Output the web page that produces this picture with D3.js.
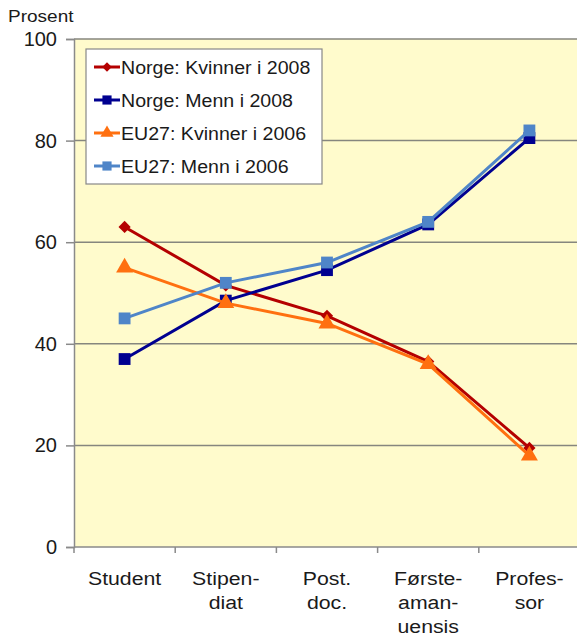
<!DOCTYPE html>
<html>
<head>
<meta charset="utf-8">
<script src="https://cdn.jsdelivr.net/npm/d3@7"></script>
<style>
  body { margin: 0; background: #fff; }
  text { font-family: "Liberation Sans", Arial, sans-serif; fill: #1a1a1a; }
</style>
</head>
<body>
<div id="chart"></div>
<script>
// data
const categories = ['Student', 'Stipendiat', 'Post.doc', 'Førsteamanuensis', 'Professor'];
const categoryLabels = [['Student'], ['Stipen-', 'diat'], ['Post.', 'doc.'], ['Første-', 'aman-', 'uensis'], ['Profes-', 'sor']];
const norgeKvinner = [63, 51.5, 45.5, 36.5, 19.5];
const norgeMenn = [37, 48.5, 54.5, 63.5, 80.5];
const euKvinner = [55, 48, 44, 36, 18];
const euMenn = [45, 52, 56, 64, 82];
const yTicks = [0, 20, 40, 60, 80, 100];

const series = [
  { name: 'Norge: Kvinner i 2008', values: norgeKvinner, color: '#b40000', symbol: d3.symbolDiamond2, size: 95 },
  { name: 'Norge: Menn i 2008', values: norgeMenn, color: '#000090', symbol: d3.symbolSquare, size: 140 },
  { name: 'EU27: Kvinner i 2006', values: euKvinner, color: '#ff7010', symbol: d3.symbolTriangle, size: 125 },
  { name: 'EU27: Menn i 2006', values: euMenn, color: '#4f85c8', symbol: d3.symbolSquare, size: 140 }
];

const width = 577, height = 637;
const margin = { top: 39, right: -3, bottom: 90, left: 74 };
const innerW = width - margin.left - margin.right;
const innerH = height - margin.top - margin.bottom;
const stretch = 1.12; // the source text is a little wider than Arial

const svg = d3.select('#chart').append('svg')
  .attr('width', width)
  .attr('height', height);

const g = svg.append('g')
  .attr('transform', `translate(${margin.left},${margin.top})`);

const x = d3.scaleBand().domain(categories).range([0, innerW]);
const y = d3.scaleLinear().domain([0, 100]).range([innerH, 0]);

// plot background
g.append('rect')
  .attr('width', innerW)
  .attr('height', innerH)
  .attr('fill', '#fffbcc');

// gridlines
g.selectAll('.grid')
  .data(yTicks.filter(d => d > 0))
  .enter().append('line')
  .attr('x1', 0).attr('x2', innerW)
  .attr('y1', d => y(d)).attr('y2', d => y(d))
  .attr('stroke', '#86867e')
  .attr('stroke-width', 1.5);

// y axis
const yAxis = g.append('g')
  .call(d3.axisLeft(y).tickValues(yTicks).tickSize(8).tickPadding(9));
yAxis.select('.domain').attr('stroke', '#8a8a8a').attr('stroke-width', 1.5);
yAxis.selectAll('.tick line').attr('stroke', '#8a8a8a').attr('stroke-width', 1.5);
yAxis.selectAll('.tick text').style('font-size', '20px').attr('fill', '#1a1a1a');

// x axis
g.append('line')
  .attr('x1', 0).attr('x2', innerW)
  .attr('y1', innerH).attr('y2', innerH)
  .attr('stroke', '#8a8a8a').attr('stroke-width', 1.5);
g.selectAll('.xtick')
  .data(categories)
  .enter().append('line')
  .attr('x1', d => x(d)).attr('x2', d => x(d))
  .attr('y1', innerH).attr('y2', innerH + 6)
  .attr('stroke', '#8a8a8a').attr('stroke-width', 1.5);

const xl = g.selectAll('.xlabel')
  .data(categories)
  .enter().append('text')
  .attr('text-anchor', 'middle')
  .attr('transform', d => `translate(${x(d) + x.bandwidth() / 2},${innerH + 38}) scale(${stretch},1)`)
  .style('font-size', '19px');
xl.selectAll('tspan')
  .data((d, i) => categoryLabels[i])
  .enter().append('tspan')
  .attr('x', 0)
  .attr('y', (d, i) => i * 24)
  .text(d => d);

// "Prosent"
svg.append('text')
  .attr('transform', `translate(8,22) scale(${stretch},1)`)
  .style('font-size', '17px')
  .text('Prosent');

// lines
const line = d3.line()
  .x((d, i) => x(categories[i]) + x.bandwidth() / 2)
  .y(d => y(d));

series.forEach(s => {
  g.append('path')
    .datum(s.values)
    .attr('fill', 'none')
    .attr('stroke', s.color)
    .attr('stroke-width', 3)
    .attr('d', line);
  g.selectAll(null)
    .data(s.values)
    .enter().append('path')
    .attr('d', d3.symbol().type(s.symbol).size(s.size))
    .attr('transform', (d, i) => `translate(${x(categories[i]) + x.bandwidth() / 2},${y(d)})`)
    .attr('fill', s.color);
});

// legend
const legend = svg.append('g').attr('transform', 'translate(86,49)');
legend.append('rect')
  .attr('width', 236).attr('height', 135)
  .attr('fill', '#fff')
  .attr('stroke', '#888').attr('stroke-width', 1.2);
series.forEach((s, i) => {
  const ly = 18 + i * 33;
  legend.append('line')
    .attr('x1', 8).attr('x2', 34)
    .attr('y1', ly).attr('y2', ly)
    .attr('stroke', s.color).attr('stroke-width', 3);
  legend.append('path')
    .attr('d', d3.symbol().type(s.symbol).size(s.size * 0.6))
    .attr('transform', `translate(21,${ly})`)
    .attr('fill', s.color);
  legend.append('text')
    .attr('transform', `translate(35,${ly + 6.5}) scale(${stretch},1)`)
    .style('font-size', '17.5px')
    .text(s.name);
});
</script>
</body>
</html>
